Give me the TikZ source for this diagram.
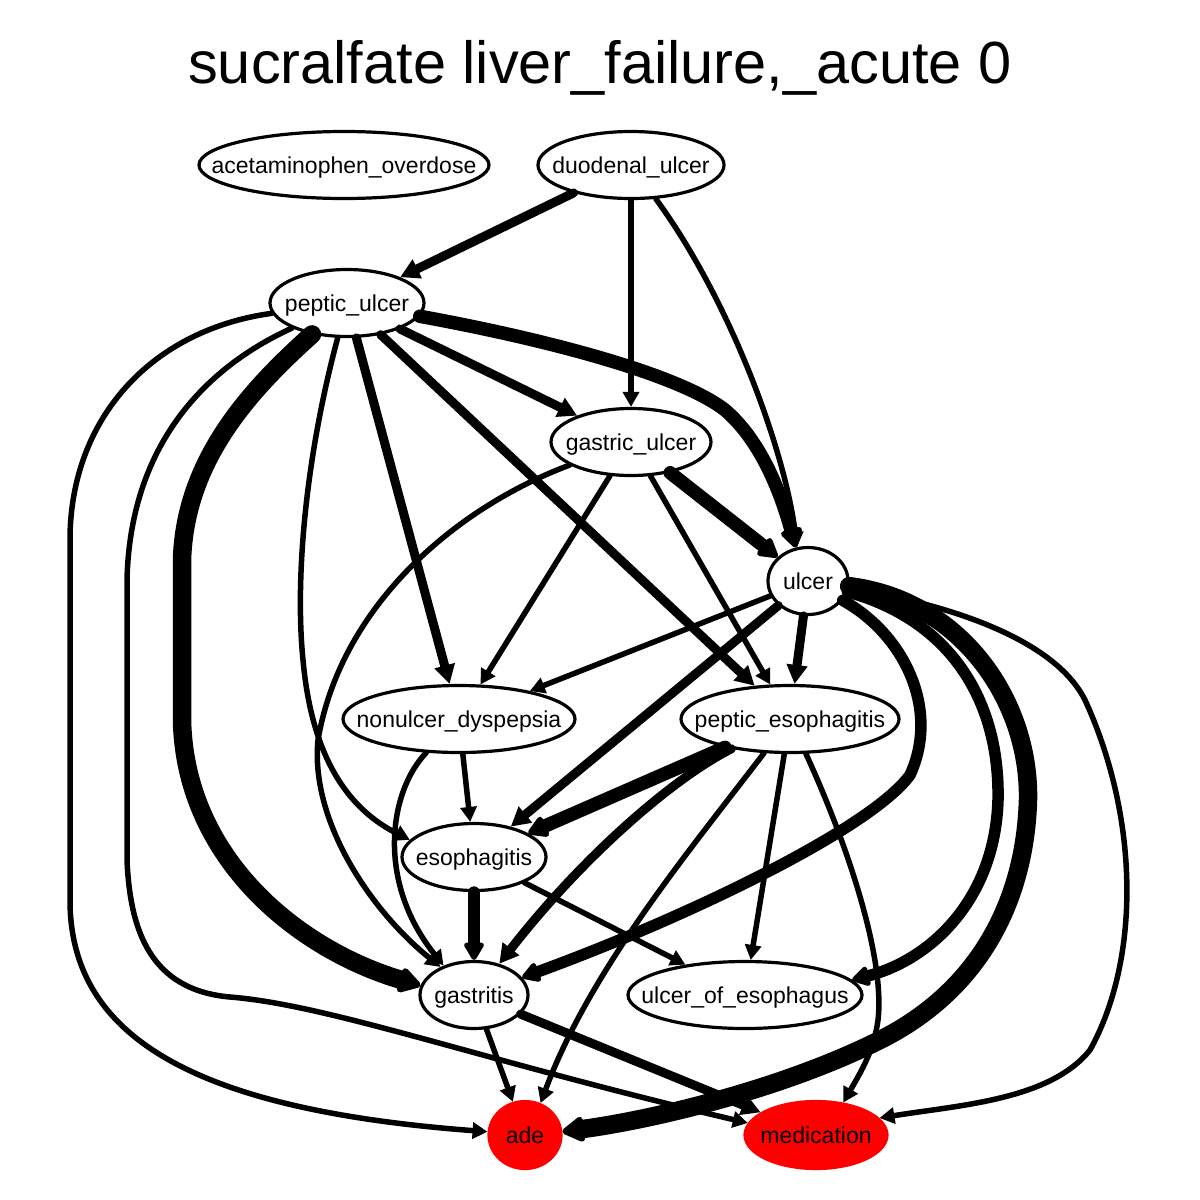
\documentclass[tikz,border=0pt]{standalone}
\usepackage{fontspec}
\setmainfont{Liberation Sans}
\usetikzlibrary{shapes.geometric,arrows.meta}
\newcommand{\nodetext}[1]{\makebox[0pt]{#1}}

\begin{document}
\begin{tikzpicture}[x=1pt, y=-1pt,
        disease/.style={ellipse, draw, line width=3.2pt, fill=white, inner sep=0pt, minimum height=67pt, text height=16pt, text depth=0pt, font=\fontsize{23pt}{27pt}\selectfont},
        outcome/.style={disease, draw=red, fill=red},
        lightlink/.style={line width=5.5pt, line cap=round, line join=round, -{Triangle[length=15pt,width=16pt]}},
        midlink/.style={line width=9pt, line cap=round, line join=round, -{Triangle[length=19pt,width=20pt]}},
        tenlink/.style={line width=11.5pt, line cap=round, line join=round, -{Triangle[round,length=20pt,width=22pt]}},
        heavylink/.style={line width=13.5pt, line cap=round, line join=round, -{Triangle[round,length=22pt,width=24pt]}},
        maxlink/.style={line width=18.5pt, line cap=round, line join=round, -{Triangle[round,length=25pt,width=28pt]}}]

        \fill[white] (0,0) rectangle (1200,1200);
        \useasboundingbox (0,0) rectangle (1200,1200);

        \node[font=\fontsize{59.5pt}{70pt}\selectfont, anchor=base] (title) at (600,83) {sucralfate liver\_failure,\_acute 0};

        \node[disease, minimum width=290pt] (ao) at (344,165) {\nodetext{acetaminophen\_overdose}};
        \node[disease, minimum width=186pt] (du) at (631,165) {\nodetext{duodenal\_ulcer}};
        \node[disease, minimum width=154pt] (pu) at (347,303) {\nodetext{peptic\_ulcer}};
        \node[disease, minimum width=160pt] (gu) at (631,442) {\nodetext{gastric\_ulcer}};
        \node[disease, minimum width=80pt] (ul) at (808,581) {\nodetext{ulcer}};
        \node[disease, minimum width=232pt] (nd) at (459,719) {\nodetext{nonulcer\_dyspepsia}};
        \node[disease, minimum width=218pt] (pe) at (790,719) {\nodetext{peptic\_esophagitis}};
        \node[disease, minimum width=144pt] (es) at (474,857) {\nodetext{esophagitis}};
        \node[disease, minimum width=108pt] (ga) at (474,995) {\nodetext{gastritis}};
        \node[disease, minimum width=234pt] (uo) at (745,995) {\nodetext{ulcer\_of\_esophagus}};
        \node[outcome, minimum width=72pt] (ad) at (525,1135) {\nodetext{ade}};
        \node[outcome, minimum width=142pt] (me) at (816,1135) {\nodetext{medication}};

        \draw[midlink] (du) -- (pu);
        \draw[lightlink] (du) -- (gu);
        \draw[lightlink] (du) .. controls (730,300) and (785,450) .. (ul.108);

        \draw[heavylink] (pu) .. controls (550,340) and (680,375) .. (725,410) .. controls (760,440) and (780,490) .. (ul.110);
        \draw[midlink] (pu) -- (gu);
        \draw[midlink] (pu) -- (pe);
        \draw[midlink] (pu) -- (nd);
        \draw[lightlink] (pu) .. controls (305,460) and (295,580) .. (303,660) .. controls (312,760) and (350,810) .. (es.165);
        \draw[maxlink] (pu) .. controls (250,390) and (185,460) .. (182,560) -- (182,720) .. controls (185,860) and (300,950) .. (ga.170);
        \draw[lightlink] (pu) .. controls (200,370) and (130,450) .. (127,580) -- (127,860) .. controls (130,930) and (150,990) .. (230,997) .. controls (330,1005) and (480,1060) .. (me.170);
        \draw[lightlink] (pu) .. controls (150,330) and (70,420) .. (70,540) -- (70,900) .. controls (70,1040) and (200,1110) .. (ad.175);

        \draw[heavylink] (gu) -- (ul);
        \draw[lightlink] (gu) -- (nd);
        \draw[lightlink] (gu) -- (pe);
        \draw[lightlink] (gu) .. controls (450,510) and (340,610) .. (318,740) .. controls (310,820) and (370,910) .. (ga.140);

        \draw[lightlink] (ul) -- (nd);
        \draw[midlink] (ul) -- (es);
        \draw[midlink] (ul) -- (pe);
        \draw[tenlink] (ul) .. controls (905,635) and (940,710) .. (910,775) .. controls (870,830) and (680,920) .. (ga.20);
        \draw[tenlink] (ul) .. controls (950,620) and (1000,700) .. (998,800) .. controls (995,900) and (930,960) .. (uo.8);
        \draw[maxlink] (ul) .. controls (960,600) and (1030,700) .. (1028,800) .. controls (1025,900) and (980,990) .. (880,1040) .. controls (780,1090) and (650,1120) .. (ad.5);
        \draw[lightlink] (ul) .. controls (980,610) and (1060,650) .. (1085,700) .. controls (1140,820) and (1140,960) .. (1090,1050) .. controls (1050,1100) and (960,1105) .. (me.15);

        \draw[lightlink] (nd) -- (es);
        \draw[lightlink] (nd) .. controls (390,790) and (375,880) .. (ga.136);

        \draw[heavylink] (pe) -- (es);
        \draw[midlink] (pe) .. controls (670,780) and (580,860) .. (ga.51);
        \draw[lightlink] (pe) .. controls (690,850) and (590,970) .. (ad.64);
        \draw[lightlink] (pe) -- (uo);
        \draw[lightlink] (pe) .. controls (850,850) and (885,960) .. (878,1020) .. controls (874,1050) and (862,1070) .. (me.50);

        \draw[tenlink] (es) -- (ga);
        \draw[lightlink] (es) -- (uo);

        \draw[lightlink] (ga) -- (ad);
        \draw[midlink] (ga) -- (me);

        \end{tikzpicture}
\end{document}
